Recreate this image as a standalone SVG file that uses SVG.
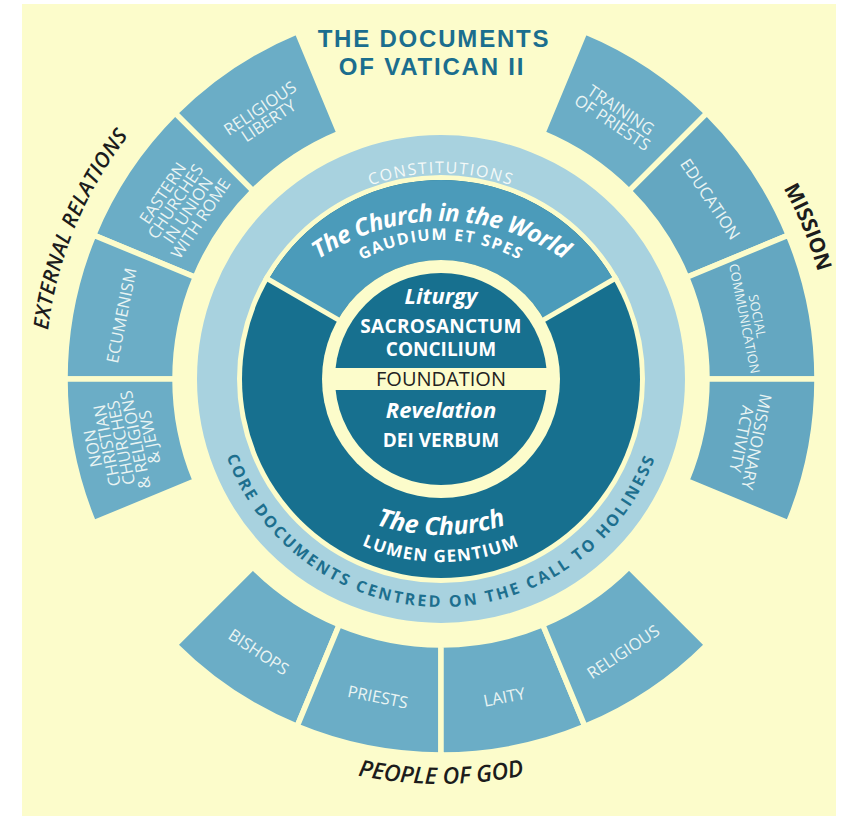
<svg xmlns="http://www.w3.org/2000/svg" width="848" height="816" viewBox="0 0 848 816">
  <style>
    .panel{fill:#fcfccb}
    .sector{fill:#6badc6;stroke:#fcfccb;stroke-width:5.5;stroke-linejoin:miter}
    .sector.grain{fill:#64a7c1}
    .stxt{font-family:"Open Sans","Noto Sans",sans-serif;font-size:16.5px;fill:#e9f4f3;text-anchor:middle}
    .stxt.small{font-size:13px}
    .title{font-family:"Liberation Sans",Arial,sans-serif;font-weight:bold;font-size:24px;fill:#1b6e8e;text-anchor:middle;letter-spacing:1.8px}
    .label{font-family:"Open Sans","Noto Sans",sans-serif;fill:#1c1c1c}
    .inner{font-family:"Open Sans","Noto Sans",sans-serif;fill:#ffffff;text-anchor:middle}
    .divider{stroke:#fcfccb;stroke-width:5;stroke-linecap:butt}
  </style>
  <defs>
    <path id="arcConst" d="M 235 379 A 206 206 0 0 1 647 379"/>
    <path id="arcWorld" d="M 226 436 A 215 215 0 0 1 656 436"/>
    <path id="arcGaudium" d="M 277 404 A 164 164 0 0 1 605 404"/>
    <path id="arcChurch" d="M 231 325 A 210 210 0 0 0 651 325"/>
    <path id="arcLumen" d="M 245 366 A 196 196 0 0 0 637 366"/>
    <path id="arcCore" d="M 213 379 A 228 228 0 0 0 669 379"/>
    <path id="arcExt" d="M 75.14 530.54 A 396 396 0 0 1 289.46 13.14"/>
    <path id="arcMission" d="M 591.01 16.84 A 392 392 0 0 1 803.16 529.01"/>
    <path id="arcPeople" d="M 154.62 665.38 A 405 405 0 0 0 727.38 665.38"/>
  </defs>

  <!-- page and panel -->
  <rect x="0" y="0" width="848" height="816" fill="#ffffff"/>
  <rect class="panel" x="22" y="4" width="814" height="812"/>

  <!-- title -->
  <g id="title">
    <text class="title" x="434" y="47">THE DOCUMENTS</text>
    <text class="title" x="432" y="75">OF VATICAN II</text>
  </g>

  <!-- external relations -->
  <g id="sector-religious-liberty">
    <path class="sector" d="M 175.13 113.13 A 376 376 0 0 1 297.11 31.62 L 339.21 133.25 A 266 266 0 0 0 252.91 190.91 Z"/>
    <text class="stxt" transform="translate(264.3,114.6) rotate(-33.75)"><tspan x="0" y="-1.8">RELIGIOUS</tspan><tspan x="0" y="13.4">LIBERTY</tspan></text>
  </g>
  <g id="sector-eastern-churches">
    <path class="sector" d="M 93.62 235.11 A 376 376 0 0 1 175.13 113.13 L 252.91 190.91 A 266 266 0 0 0 195.25 277.21 Z"/>
    <text class="stxt" transform="translate(181.6,205.7) rotate(-56.25)"><tspan x="0" y="-16.8">EASTERN</tspan><tspan x="0" y="-1.6">CHURCHES</tspan><tspan x="0" y="13.6">IN UNION</tspan><tspan x="0" y="28.8">WITH ROME</tspan></text>
  </g>
  <g id="sector-ecumenism">
    <path class="sector" d="M 65 379 A 376 376 0 0 1 93.62 235.11 L 195.25 277.21 A 266 266 0 0 0 175 379 Z"/>
    <text class="stxt" transform="translate(121.3,315.4) rotate(-78.75)"><tspan x="0" y="6">ECUMENISM</tspan></text>
  </g>
  <g id="sector-non-christian">
    <path class="sector" d="M 93.62 522.89 A 376 376 0 0 1 65 379 L 175 379 A 266 266 0 0 0 195.25 480.79 Z"/>
    <text class="stxt" transform="translate(121.3,442.6) rotate(-101.25)"><tspan x="0" y="-23.3">NON</tspan><tspan x="0" y="-8.8">CHRISTIAN</tspan><tspan x="0" y="5.7">CHURCHES</tspan><tspan x="0" y="20.2">&amp; RELIGIONS</tspan><tspan x="0" y="34.7">&amp; JEWS</tspan></text>
  </g>

  <!-- mission -->
  <g id="sector-training-of-priests">
    <path class="sector" d="M 584.89 31.62 A 376 376 0 0 1 706.87 113.13 L 629.09 190.91 A 266 266 0 0 0 542.79 133.25 Z"/>
    <text class="stxt" transform="translate(616.6,116.3) rotate(33.75)"><tspan x="0" y="-1.8">TRAINING</tspan><tspan x="0" y="13.4">OF PRIESTS</tspan></text>
  </g>
  <g id="sector-education">
    <path class="sector grain" d="M 706.87 113.13 A 376 376 0 0 1 788.38 235.11 L 686.75 277.21 A 266 266 0 0 0 629.09 190.91 Z"/>
    <text class="stxt" transform="translate(710.4,199) rotate(56.25)"><tspan x="0" y="6">EDUCATION</tspan></text>
  </g>
  <g id="sector-social-communication">
    <path class="sector grain" d="M 788.38 235.11 A 376 376 0 0 1 817 379 L 707 379 A 266 266 0 0 0 686.75 277.21 Z"/>
    <text class="stxt small" transform="translate(750.9,317.4) rotate(78.75)"><tspan x="0" y="-1.9">SOCIAL</tspan><tspan x="0" y="11.2">COMMUNICATION</tspan></text>
  </g>
  <g id="sector-missionary-activity">
    <path class="sector grain" d="M 817 379 A 376 376 0 0 1 788.38 522.89 L 686.75 480.79 A 266 266 0 0 0 707 379 Z"/>
    <text class="stxt" transform="translate(749,440.3) rotate(101.25)"><tspan x="0" y="-1.8">MISSIONARY</tspan><tspan x="0" y="13.4">ACTIVITY</tspan></text>
  </g>

  <!-- people of god -->
  <g id="sector-bishops">
    <path class="sector" d="M 297.11 726.38 A 376 376 0 0 1 175.13 644.87 L 252.91 567.09 A 266 266 0 0 0 339.21 624.75 Z"/>
    <text class="stxt" transform="translate(258.8,651.7) rotate(33.75)"><tspan x="0" y="6">BISHOPS</tspan></text>
  </g>
  <g id="sector-priests">
    <path class="sector" d="M 441 755 A 376 376 0 0 1 297.11 726.38 L 339.21 624.75 A 266 266 0 0 0 441 645 Z"/>
    <text class="stxt" transform="translate(377.8,696.8) rotate(11.25)"><tspan x="0" y="6">PRIESTS</tspan></text>
  </g>
  <g id="sector-laity">
    <path class="sector" d="M 584.89 726.38 A 376 376 0 0 1 441 755 L 441 645 A 266 266 0 0 0 542.79 624.75 Z"/>
    <text class="stxt" transform="translate(504.2,696.8) rotate(-11.25)"><tspan x="0" y="6">LAITY</tspan></text>
  </g>
  <g id="sector-religious">
    <path class="sector" d="M 706.87 644.87 A 376 376 0 0 1 584.89 726.38 L 542.79 624.75 A 266 266 0 0 0 629.09 567.09 Z"/>
    <text class="stxt" transform="translate(623.2,651.7) rotate(-33.75)"><tspan x="0" y="6">RELIGIOUS</tspan></text>
  </g>

  <!-- constitutions ring -->
  <g id="ring-constitutions">
    <circle cx="441" cy="379" r="224" fill="none" stroke="#a8d2df" stroke-width="40"/>
    <text font-family="'Open Sans','Noto Sans',sans-serif" font-size="16" fill="#f4f9f8" letter-spacing="1.6" text-anchor="middle"><textPath href="#arcConst" startOffset="50%">CONSTITUTIONS</textPath></text>
    <text font-family="'Open Sans','Noto Sans',sans-serif" font-size="16" font-weight="bold" fill="#1d6f8e" letter-spacing="2.5" text-anchor="middle"><textPath href="#arcCore" startOffset="50%">CORE DOCUMENTS CENTRED ON THE CALL TO HOLINESS</textPath></text>
  </g>

  <!-- the church (lumen gentium) -->
  <g id="church">
    <circle cx="441" cy="379" r="199" fill="#17708f"/>
    <text class="inner" font-size="25" font-style="italic" font-weight="bold"><textPath href="#arcChurch" startOffset="50%">The Church</textPath></text>
    <text class="inner" font-size="17" font-weight="bold" letter-spacing="1.3"><textPath href="#arcLumen" startOffset="50%">LUMEN GENTIUM</textPath></text>
  </g>

  <!-- the church in the world (gaudium et spes) -->
  <g id="church-in-the-world">
    <path d="M 268.66 279.5 A 199 199 0 0 1 613.34 279.5 L 544.06 319.5 A 119 119 0 0 0 337.94 319.5 Z" fill="#4b9bba"/>
    <line class="divider" x1="264.3" y1="277" x2="339.3" y2="320.3"/>
    <line class="divider" x1="617.7" y1="277" x2="542.7" y2="320.3"/>
    <text class="inner" font-size="24" font-style="italic" font-weight="bold" letter-spacing="-0.5"><textPath href="#arcWorld" startOffset="50%">The Church in the World</textPath></text>
    <text class="inner" font-size="16" font-weight="bold" letter-spacing="1.5"><textPath href="#arcGaudium" startOffset="50%">GAUDIUM ET SPES</textPath></text>
  </g>

  <!-- foundation core -->
  <g id="foundation">
    <circle cx="441" cy="379" r="119" fill="#fcfccb"/>
    <circle cx="441" cy="379" r="106" fill="#17708f"/>
    <rect x="323" y="368" width="236" height="22" fill="#fcfccb"/>
    <text font-family="'Open Sans','Noto Sans',sans-serif" font-size="20" fill="#222222" text-anchor="middle" x="441" y="386">FOUNDATION</text>
  </g>
  <g id="liturgy">
    <text class="inner" x="441" y="304" font-size="22" font-style="italic" font-weight="bold">Liturgy</text>
    <text class="inner" x="441" y="333" font-size="19" font-weight="bold" letter-spacing="0.3">SACROSANCTUM</text>
    <text class="inner" x="441" y="356" font-size="19" font-weight="bold">CONCILIUM</text>
  </g>
  <g id="revelation">
    <text class="inner" x="441" y="418" font-size="22" font-style="italic" font-weight="bold">Revelation</text>
    <text class="inner" x="441" y="447" font-size="19" font-weight="bold">DEI VERBUM</text>
  </g>

  <!-- group labels -->
  <g id="label-external-relations">
    <text class="label" font-size="21" font-style="italic" font-weight="600" letter-spacing="0.4" text-anchor="middle"><textPath href="#arcExt" startOffset="50%">EXTERNAL RELATIONS</textPath></text>
  </g>
  <g id="label-mission">
    <text class="label" font-size="21" font-weight="bold" text-anchor="middle"><textPath href="#arcMission" startOffset="50%">MISSION</textPath></text>
  </g>
  <g id="label-people-of-god">
    <text class="label" font-size="23" font-style="italic" font-weight="600" text-anchor="middle"><textPath href="#arcPeople" startOffset="50%">PEOPLE OF GOD</textPath></text>
  </g>
</svg>
